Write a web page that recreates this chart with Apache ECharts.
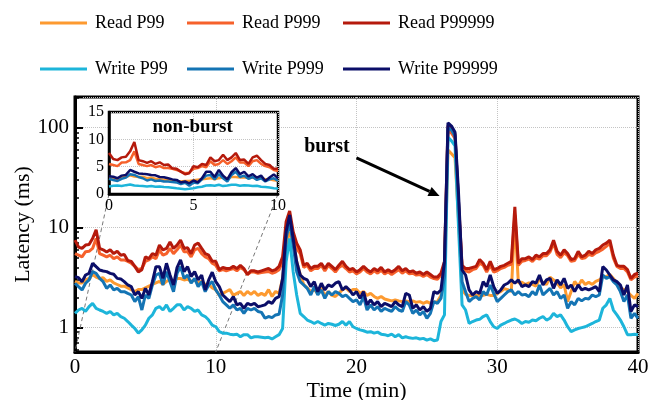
<!DOCTYPE html>
<html>
<head>
<meta charset="utf-8">
<script src="https://cdn.jsdelivr.net/npm/echarts@6/dist/echarts.min.js"></script>
<style>
  html, body { margin: 0; padding: 0; background: #fff; }
  #main { width: 658px; height: 400px; }
</style>
</head>
<body>
<div id="main"></div>
<script>
// sampling step of the trace, in minutes
var step = 0.25;
var times = [];
for (var i = 0; i <= 160; i++) times.push(i * step);

var readP99 = [
  2.9, 2.8, 2.8, 3.0, 3.1, 3.4, 3.2, 3.1,
  3.15, 2.9, 3.0, 2.8, 2.7, 2.6, 2.6, 2.5,
  2.4, 2.3, 2.4, 2.4, 2.5, 2.6, 2.7, 2.8,
  2.9, 2.7, 2.9, 3.0, 2.9, 3.1, 3.1, 3.0,
  3.05, 2.9, 3.0, 2.8, 2.9, 2.7, 2.7, 2.5,
  2.4, 2.1, 2.2, 2.3, 2.4, 2.1, 2.2, 2.3,
  2.1, 2.3, 2.15, 2.3, 2.1, 2.2, 2.1, 2.4,
  2.05, 2.3, 2.2, 3.1, 6.7, 9.1, 7.2, 4.6,
  3.4, 2.7, 2.5, 2.3, 2.4, 2.2, 2.5, 2.1,
  2.3, 2.1, 2.05, 2.2, 2.4, 2.5, 2.3, 2.4,
  2.4, 2.2, 2.3, 2.1, 2.2, 2.05, 1.96, 2.05,
  1.93, 1.89, 1.85, 1.89, 1.85, 1.82, 1.85, 1.82,
  1.85, 1.79, 1.82, 1.75, 1.82, 1.75, 1.79, 1.82,
  2.1, 3.0, 60, 55, 50, 12, 2.4, 2.15,
  2.1, 2.1, 2.1, 2.1, 2.1, 2.15, 2.1, 2.1,
  2.2, 2.3, 2.45, 2.4, 2.3, 12, 2.8, 2.85,
  2.7, 2.8, 2.7, 2.6, 3.1, 2.8, 2.7, 3.2,
  3.0, 2.8, 2.5, 2.7, 1.82, 2.3, 2.9, 2.6,
  3.0, 2.7, 2.85, 2.7, 2.9, 3.0, 3.2, 3.25,
  3.4, 3.1, 2.8, 2.5, 2.4, 2.3, 2.1, 1.96,
  2.2
];
var readP999 = [
  5.5, 5.3, 5.1, 5.75, 5.8, 6.2, 7.8, 5.5,
  5.3, 5.1, 5.3, 4.9, 5.1, 4.75, 4.75, 4.6,
  4.4, 4.1, 3.8, 3.9, 4.6, 4.75, 5.1, 4.9,
  6.0, 5.3, 5.5, 6.2, 5.5, 6.0, 6.7, 5.75,
  5.75, 5.1, 6.0, 6.2, 5.5, 5.1, 4.9, 4.4,
  4.2, 3.7, 3.8, 3.7, 3.8, 3.9, 3.7, 4.0,
  3.8, 3.4, 3.6, 3.6, 3.5, 3.55, 3.6, 3.65,
  3.5, 3.6, 3.8, 4.6, 9.1, 12.9, 8.5, 6.2,
  5.5, 4.0, 4.2, 3.7, 3.9, 3.9, 4.2, 3.7,
  4.2, 3.9, 3.6, 4.0, 4.2, 3.9, 3.6, 3.7,
  3.45, 3.6, 3.9, 3.6, 3.45, 3.7, 3.5, 3.75,
  3.45, 3.6, 3.4, 3.6, 3.8, 3.5, 3.7, 3.45,
  3.5, 3.35, 3.4, 3.25, 3.4, 3.2, 3.1, 3.05,
  3.35, 4.2, 95, 88, 78, 16, 4.0, 3.7,
  3.6, 3.8, 3.9, 4.4, 4.2, 3.6, 4.2, 3.6,
  3.7, 3.9, 4.0, 4.2, 4.3, 13.4, 4.2, 4.6,
  4.7, 4.85, 4.6, 5.0, 4.85, 5.25, 5.25, 5.7,
  7.0, 5.4, 5.0, 5.6, 5.25, 4.6, 4.7, 5.4,
  4.9, 5.0, 5.4, 5.25, 5.6, 5.8, 6.1, 6.5,
  7.0, 4.95, 4.1, 3.9, 3.9, 3.6, 3.0, 3.2,
  3.3
];
var readP99999 = [
  7.5, 6.4, 6.2, 6.7, 6.8, 7.8, 9.5, 6.2,
  6.0, 5.7, 6.0, 5.5, 5.8, 5.3, 5.4, 4.7,
  4.6, 4.1, 3.6, 3.8, 5.1, 4.9, 5.5, 5.3,
  6.7, 6.0, 6.2, 7.2, 6.2, 6.7, 7.5, 6.2,
  6.3, 5.5, 6.7, 7.0, 6.2, 5.5, 5.3, 4.6,
  4.6, 3.8, 4.0, 3.9, 3.9, 4.1, 3.9, 4.2,
  3.9, 3.4, 3.7, 3.7, 3.6, 3.7, 3.8, 3.9,
  3.7, 3.8, 4.1, 5.1, 11.5, 14.7, 9.1, 7.0,
  6.0, 4.2, 4.4, 3.9, 4.1, 4.1, 4.4, 3.9,
  4.4, 4.1, 3.8, 4.2, 4.6, 4.1, 3.8, 3.9,
  3.6, 3.8, 4.1, 3.8, 3.6, 3.9, 3.7, 4.0,
  3.6, 3.8, 3.6, 3.8, 4.1, 3.7, 3.9, 3.6,
  3.7, 3.5, 3.6, 3.4, 3.6, 3.4, 3.2, 3.2,
  3.5, 4.6, 105, 98, 86, 18, 4.2, 3.9,
  3.9, 4.0, 4.1, 4.8, 4.4, 3.8, 4.6, 3.8,
  3.9, 4.1, 4.2, 4.4, 4.6, 16.2, 4.4, 4.9,
  4.9, 5.1, 4.8, 5.3, 5.1, 5.5, 5.5, 6.0,
  7.5, 5.8, 5.3, 6.0, 5.5, 4.8, 4.9, 5.8,
  5.1, 5.3, 5.8, 5.5, 6.0, 6.2, 6.7, 7.0,
  7.5, 5.3, 4.2, 4.1, 4.1, 3.8, 3.1, 3.4,
  3.5
];
var writeP99 = [
  1.39, 1.5, 1.56, 1.45, 1.62, 1.75, 1.56, 1.5,
  1.45, 1.39, 1.45, 1.34, 1.39, 1.29, 1.24, 1.15,
  1.06, 0.98, 0.88, 0.95, 1.06, 1.24, 1.34, 1.56,
  1.62, 1.5, 1.69, 1.45, 1.56, 1.69, 1.69, 1.5,
  1.62, 1.56, 1.45, 1.5, 1.34, 1.29, 1.19, 1.06,
  1.02, 0.91, 0.88, 0.88, 0.86, 0.85, 0.86, 0.81,
  0.85, 0.85, 0.79, 0.81, 0.81, 0.8, 0.79, 0.8,
  0.77, 0.81, 0.85, 0.98, 4.57, 7.8, 3.63, 2.12,
  1.39, 1.29, 1.19, 1.15, 1.1, 1.15, 1.1, 1.06,
  1.1, 1.08, 1.05, 1.08, 1.15, 1.06, 1.15, 1.02,
  0.98, 0.95, 0.93, 0.9, 0.91, 0.88, 0.9, 0.86,
  0.85, 0.83, 0.86, 0.81, 0.85, 0.79, 0.81, 0.79,
  0.78, 0.79, 0.77, 0.78, 0.75, 0.77, 0.74, 0.75,
  1.15, 1.34, 80, 74, 66, 10, 1.69, 1.5,
  1.1, 1.15, 1.19, 1.21, 1.29, 1.34, 1.15, 1.02,
  0.98, 1.06, 1.1, 1.15, 1.19, 1.22, 1.17, 1.1,
  1.15, 1.13, 1.19, 1.17, 1.24, 1.29, 1.19, 1.24,
  1.39, 1.29, 1.34, 1.19, 1.02, 0.91, 0.95, 0.98,
  1.0, 1.02, 1.06, 1.1, 1.15, 1.19, 1.56, 1.69,
  1.96, 1.5, 1.34, 1.19, 1.02, 0.85, 0.85, 0.86,
  0.85
];
var writeP999 = [
  2.78, 2.57, 2.38, 2.78, 3.0, 3.63, 3.49, 3.11,
  2.88, 2.47, 2.67, 2.38, 2.47, 2.29, 2.29, 2.2,
  2.12, 1.82, 2.04, 1.5, 2.12, 1.96, 2.67, 3.36,
  3.49, 2.67, 3.63, 2.88, 2.29, 3.49, 4.07, 3.11,
  3.36, 2.78, 3.11, 2.57, 2.88, 2.29, 2.67, 2.88,
  2.38, 2.12, 1.82, 1.69, 1.56, 1.69, 1.5, 1.56,
  1.39, 1.56, 1.5, 1.56, 1.45, 1.42, 1.24, 1.29,
  1.26, 1.34, 1.36, 2.12, 7.8, 11.5, 6.7, 3.63,
  2.88, 2.67, 2.47, 2.12, 2.57, 2.12, 2.38, 1.96,
  2.29, 2.12, 2.29, 2.2, 2.04, 2.12, 1.96, 1.82,
  1.89, 1.69, 2.04, 1.5, 1.69, 1.5, 1.62, 1.45,
  1.56, 1.5, 1.45, 1.62, 1.5, 1.45, 1.82, 1.69,
  1.39, 1.5, 1.34, 1.45, 1.24, 1.39, 1.82, 1.75,
  1.96, 3.2, 100, 95, 82, 18, 2.88, 2.29,
  1.82, 1.96, 2.04, 1.89, 2.29, 2.12, 2.67, 2.2,
  1.82, 1.96, 2.12, 2.29, 2.38, 2.12, 2.29, 2.12,
  2.15, 2.04, 2.29, 2.12, 2.67, 2.12, 2.29, 2.47,
  2.12, 2.29, 1.96, 2.12, 1.56, 1.82, 1.69, 1.96,
  1.85, 1.96, 1.93, 2.12, 2.04, 2.12, 3.36, 3.11,
  3.24, 2.88, 2.67, 2.29, 1.82, 2.12, 1.24, 1.39,
  1.24
];
var writeP99999 = [
  3.24, 3.16, 2.88, 3.36, 3.49, 4.4, 4.07, 3.77,
  3.69, 3.63, 3.49, 3.42, 3.11, 3.07, 2.88, 2.67,
  2.57, 2.12, 2.29, 1.96, 2.47, 2.12, 2.88, 4.07,
  4.07, 3.11, 4.4, 3.36, 2.67, 3.98, 4.75, 3.63,
  4.07, 3.24, 3.63, 3.0, 3.36, 2.38, 3.0, 3.58,
  2.88, 2.57, 2.12, 1.96, 1.82, 2.04, 1.69, 1.75,
  1.56, 1.75, 1.69, 1.75, 1.62, 1.65, 1.69, 1.82,
  1.75, 1.96, 2.04, 3.11, 9.1, 13.4, 7.8, 4.57,
  3.36, 3.11, 3.0, 2.57, 2.88, 2.29, 2.78, 2.38,
  2.67, 2.57, 2.78, 2.88, 2.38, 2.57, 2.38, 2.12,
  2.29, 1.96, 2.29, 1.69, 1.89, 1.69, 1.82, 1.62,
  1.75, 1.69, 1.62, 1.82, 1.69, 1.62, 2.2, 2.12,
  1.56, 1.69, 1.5, 1.62, 1.45, 1.56, 2.29, 2.2,
  2.38, 4.57, 112, 104, 90, 22, 3.77, 3.36,
  2.38, 2.12, 2.29, 2.2, 2.88, 2.57, 3.36, 2.57,
  2.2, 2.38, 2.67, 2.78, 3.0, 2.78, 3.0, 2.57,
  2.67, 2.57, 2.88, 2.78, 3.36, 2.67, 3.0, 3.11,
  2.47, 3.0, 2.67, 3.11, 2.47, 2.67, 2.29, 2.67,
  2.38, 2.47, 2.38, 2.47, 2.57, 2.29, 4.07, 3.77,
  3.36, 3.0, 2.88, 2.67, 2.12, 2.67, 1.45, 1.69,
  1.62
];

var seriesNames = ['Read P99', 'Read P999', 'Read P99999', 'Write P99', 'Write P999', 'Write P99999'];
var seriesValues = [readP99, readP999, readP99999, writeP99, writeP999, writeP99999];
var colors = ['#fd9a30', '#f6612b', '#b51a0c', '#1db5da', '#1474b4', '#0b0e68'];

var yTicks = [1, 10, 100];
var insetEnd = 10;        // the inset zooms into minutes 0..10
var burstText = [17.9, 65];
var arrowFrom = [20, 50];
var arrowTo = [25.9, 20.7];

var font = 'Liberation Serif';
var myChart = echarts.init(document.getElementById('main'));

var series = [];
seriesNames.forEach(function (name, k) {
  var pts = times.map(function (t, i) { return [t, seriesValues[k][i]]; });
  series.push({
    name: name, type: 'line', xAxisIndex: 0, yAxisIndex: 0,
    symbol: 'none', data: pts, z: 2,
    lineStyle: { width: 3, color: colors[k] }, itemStyle: { color: colors[k] }
  });
  series.push({
    name: name, type: 'line', xAxisIndex: 1, yAxisIndex: 1,
    symbol: 'none', z: 5,
    data: pts.filter(function (p) { return p[0] <= insetEnd; }),
    lineStyle: { width: 2.5, color: colors[k] }, itemStyle: { color: colors[k] }
  });
});

function legendCol(names, left) {
  return {
    data: names, orient: 'vertical', left: left, top: 9,
    icon: 'rect', itemWidth: 47, itemHeight: 3, itemGap: 28,
    textStyle: { fontFamily: font, fontSize: 18, color: '#000', padding: [0, 0, 0, 3] }
  };
}

var dotted = { show: true, lineStyle: { color: '#c4c4c4', type: 'dotted', width: 1 } };

option = {
  animation: false,
  backgroundColor: '#fff',
  legend: [
    legendCol(['Read P99', 'Write P99'], 35),
    legendCol(['Read P999', 'Write P999'], 182),
    legendCol(['Read P99999', 'Write P99999'], 338)
  ],
  grid: [
    { left: 75, right: 20, top: 97, bottom: 48, outerBoundsMode: 'none',
      show: true, borderColor: '#000', borderWidth: 3 },
    { left: 109, top: 112, width: 169, height: 82, outerBoundsMode: 'none',
      show: true, backgroundColor: '#fff', borderColor: '#000', borderWidth: 2.5, z: 3 }
  ],
  xAxis: [
    {
      type: 'value', gridIndex: 0, min: 0, max: 40, interval: 10,
      name: 'Time (min)', nameLocation: 'middle', nameGap: 28, nameMoveOverlap: false,
      nameTextStyle: { fontFamily: font, fontSize: 22, color: '#000' },
      axisLine: { show: true, lineStyle: { color: '#000', width: 3 } },
      axisTick: { show: false },
      axisLabel: { fontFamily: font, fontSize: 21, color: '#000', margin: 5 },
      splitLine: dotted
    },
    {
      type: 'value', gridIndex: 1, min: 0, max: insetEnd, interval: 5, z: 4,
      axisLine: { show: true, lineStyle: { color: '#000', width: 2.5 } },
      axisTick: { show: false },
      axisLabel: { fontFamily: font, fontSize: 16, color: '#000', margin: 4 },
      splitLine: dotted
    }
  ],
  yAxis: [
    {
      type: 'log', logBase: 10, gridIndex: 0, min: 0.57, max: 203,
      name: 'Latency (ms)', nameLocation: 'middle', nameGap: 41, nameMoveOverlap: false,
      nameTextStyle: { fontFamily: font, fontSize: 22, color: '#000' },
      axisLine: { show: true, lineStyle: { color: '#000', width: 3 } },
      axisTick: { inside: true, length: 8, lineStyle: { color: '#000', width: 2 } },
      minorTick: { show: true, splitNumber: 9, length: 4, lineStyle: { color: '#000', width: 1.5 } },
      axisLabel: {
        fontFamily: font, fontSize: 21, color: '#000', margin: 6,
        formatter: function (v) {
          for (var j = 0; j < yTicks.length; j++) {
            if (Math.abs(v - yTicks[j]) < yTicks[j] * 1e-6) return String(yTicks[j]);
          }
          return '';
        }
      },
      splitLine: dotted
    },
    {
      type: 'value', gridIndex: 1, min: 0, max: 15, interval: 5, z: 4,
      axisLine: { show: true, lineStyle: { color: '#000', width: 2.5 } },
      axisTick: { show: false },
      axisLabel: { fontFamily: font, fontSize: 16, color: '#000', margin: 5 },
      splitLine: dotted
    }
  ],
  color: colors,
  series: series
};

myChart.setOption(option);

// zoom connectors, "non-burst" title and the burst annotation
var yMin = option.yAxis[0].min;
var c0 = myChart.convertToPixel({ gridIndex: 0 }, [0, yMin]);
var c1 = myChart.convertToPixel({ gridIndex: 0 }, [insetEnd, yMin]);
var i0 = myChart.convertToPixel({ gridIndex: 1 }, [0, 0]);
var i1 = myChart.convertToPixel({ gridIndex: 1 }, [insetEnd, 0]);
var tNon = myChart.convertToPixel({ gridIndex: 1 }, [4.95, 12.3]);
var tBurst = myChart.convertToPixel({ gridIndex: 0 }, burstText);
var a0 = myChart.convertToPixel({ gridIndex: 0 }, arrowFrom);
var a1 = myChart.convertToPixel({ gridIndex: 0 }, arrowTo);

var dx = a1[0] - a0[0], dy = a1[1] - a0[1];
var len = Math.sqrt(dx * dx + dy * dy);
var ux = dx / len, uy = dy / len;
var headL = 11, headW = 5;
var bx = a1[0] - ux * headL, by = a1[1] - uy * headL;

var dash = { stroke: '#777', lineWidth: 1, lineDash: [4, 3] };

myChart.setOption({
  graphic: [
    { type: 'line', z: 1, shape: { x1: i0[0], y1: i0[1], x2: c0[0], y2: c0[1] }, style: dash, silent: true },
    { type: 'line', z: 1, shape: { x1: i1[0], y1: i1[1], x2: c1[0], y2: c1[1] }, style: dash, silent: true },
    { type: 'text', z: 10, x: tNon[0], y: tNon[1],
      style: { text: 'non-burst', font: 'bold 19px "Liberation Serif"', fill: '#000',
               textAlign: 'center', textVerticalAlign: 'middle' } },
    { type: 'text', z: 10, x: tBurst[0], y: tBurst[1],
      style: { text: 'burst', font: 'bold 20px "Liberation Serif"', fill: '#000',
               textAlign: 'center', textVerticalAlign: 'middle' } },
    { type: 'line', z: 10, shape: { x1: a0[0], y1: a0[1], x2: bx, y2: by },
      style: { stroke: '#000', lineWidth: 3 } },
    { type: 'polygon', z: 10,
      shape: { points: [[a1[0], a1[1]], [bx - uy * headW, by + ux * headW], [bx + uy * headW, by - ux * headW]] },
      style: { fill: '#000' } }
  ]
});
</script>
</body>
</html>
